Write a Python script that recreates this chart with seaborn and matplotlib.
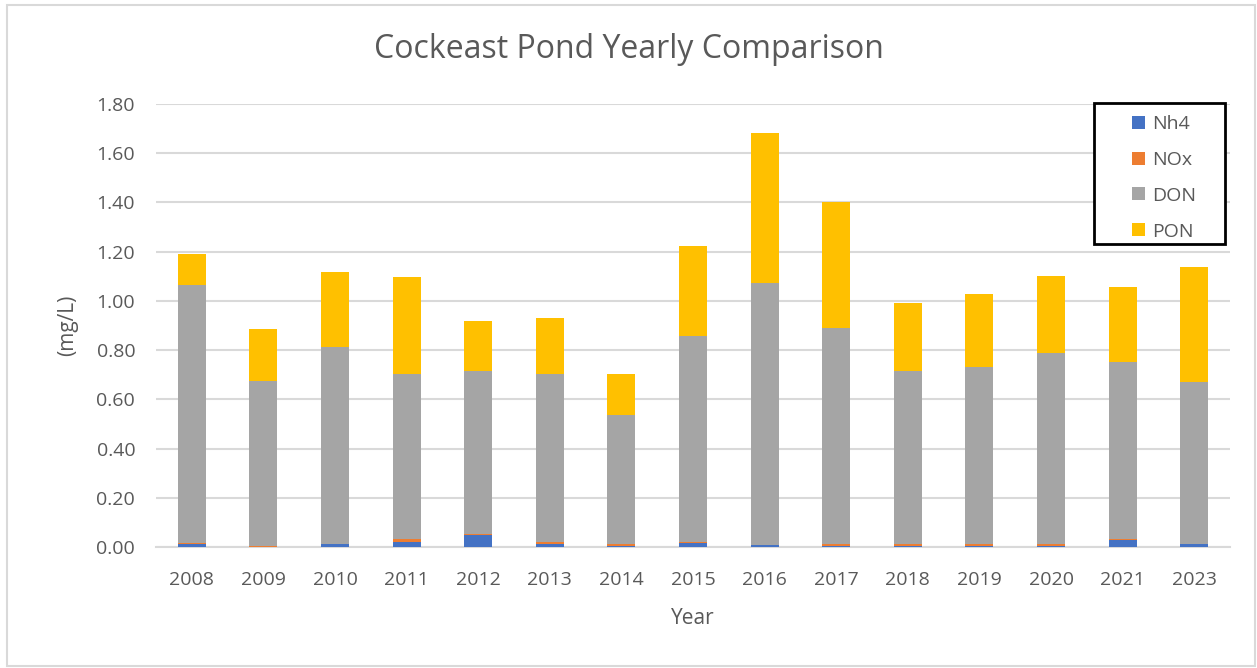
import matplotlib
matplotlib.use("Agg")
import matplotlib.pyplot as plt
from matplotlib.patches import Patch, Rectangle
import numpy as np
import pandas as pd
import seaborn as sns

years = ["2008", "2009", "2010", "2011", "2012", "2013", "2014", "2015",
         "2016", "2017", "2018", "2019", "2020", "2021", "2023"]
nh4 = [0.011, 0.002, 0.012, 0.022, 0.048, 0.011, 0.004, 0.015,
       0.007, 0.004, 0.004, 0.004, 0.004, 0.027, 0.012]
nox = [0.007, 0.001, 0.001, 0.009, 0.006, 0.011, 0.007, 0.007,
       0.001, 0.008, 0.008, 0.008, 0.008, 0.007, 0.001]
don = [1.048, 0.673, 0.799, 0.671, 0.661, 0.680, 0.524, 0.836,
       1.064, 0.877, 0.703, 0.721, 0.777, 0.719, 0.658]
pon = [0.125, 0.209, 0.306, 0.394, 0.205, 0.228, 0.167, 0.364,
       0.610, 0.511, 0.278, 0.297, 0.314, 0.303, 0.468]

series = ["Nh4", "NOx", "DON", "PON"]
colors = ["#4472C4", "#ED7D31", "#A5A5A5", "#FFC000"]

df = pd.DataFrame({"Year": years, "Nh4": nh4, "NOx": nox, "DON": don, "PON": pon})
cum = df[series].cumsum(axis=1)

sns.set_style("white")
plt.rcParams["font.family"] = ["Open Sans", "DejaVu Sans"]
txt = "#595959"

W, H = 1257, 668
fig = plt.figure(figsize=(W / 100, H / 100), dpi=100)
ax = fig.add_axes([156 / W, 1 - 547 / H, (1230 - 156) / W, (547 - 104) / H])

# draw cumulative totals from the top down so the lower segments cover them
for name, col in zip(series[::-1], colors[::-1]):
    sns.barplot(x=df["Year"], y=cum[name], color=col, width=0.39,
                ax=ax, saturation=1, zorder=3, edgecolor="none")

ax.set_ylim(0, 1.8)
ax.set_xlim(-0.5, len(years) - 0.5)
ticks = np.arange(0, 1.81, 0.2)
ax.set_yticks(ticks)
ax.set_yticklabels([f"{v:.2f}" for v in ticks])
ax.yaxis.grid(True, color="#D9D9D9", linewidth=1.5, zorder=0)
ax.set_axisbelow(True)
for s in ["top", "right", "left"]:
    ax.spines[s].set_visible(False)
ax.spines["bottom"].set_color("#D9D9D9")
ax.spines["bottom"].set_linewidth(1.5)
ax.tick_params(axis="both", length=0, labelsize=14, colors=txt)
ax.tick_params(axis="x", pad=17)
ax.tick_params(axis="y", pad=15)
ax.set_xlabel("Year", fontsize=15, color=txt, labelpad=14)
ax.set_ylabel("(mg/L)", fontsize=15, color=txt, labelpad=13)

fig.text(0.5, 1 - 50 / H, "Cockeast Pond Yearly Comparison", ha="center", va="center",
         fontsize=23, color=txt)

handles = [Patch(facecolor=c, edgecolor="none", label=n) for n, c in zip(series, colors)]
leg = fig.legend(handles=handles, loc="upper left", bbox_to_anchor=(1132 / W, 1 - 115 / H),
                 frameon=False, fontsize=14, labelcolor=txt, handlelength=0.65,
                 handleheight=0.65, handletextpad=0.4, labelspacing=0.92,
                 borderpad=0, borderaxespad=0)

# legend box
fig.patches.append(Rectangle((1094 / W, 1 - 244 / H), 131 / W, 141 / H,
                             transform=fig.transFigure, fill=True, facecolor="white",
                             edgecolor="black", linewidth=2, zorder=5))
leg.set_zorder(6)

# outer chart border
fig.patches.append(Rectangle((7 / W, 2 / H), 1 - 9 / W, 1 - 7 / H, transform=fig.transFigure,
                             fill=False, edgecolor="#D9D9D9", linewidth=1.5))

fig.savefig("out.png", dpi=100)
